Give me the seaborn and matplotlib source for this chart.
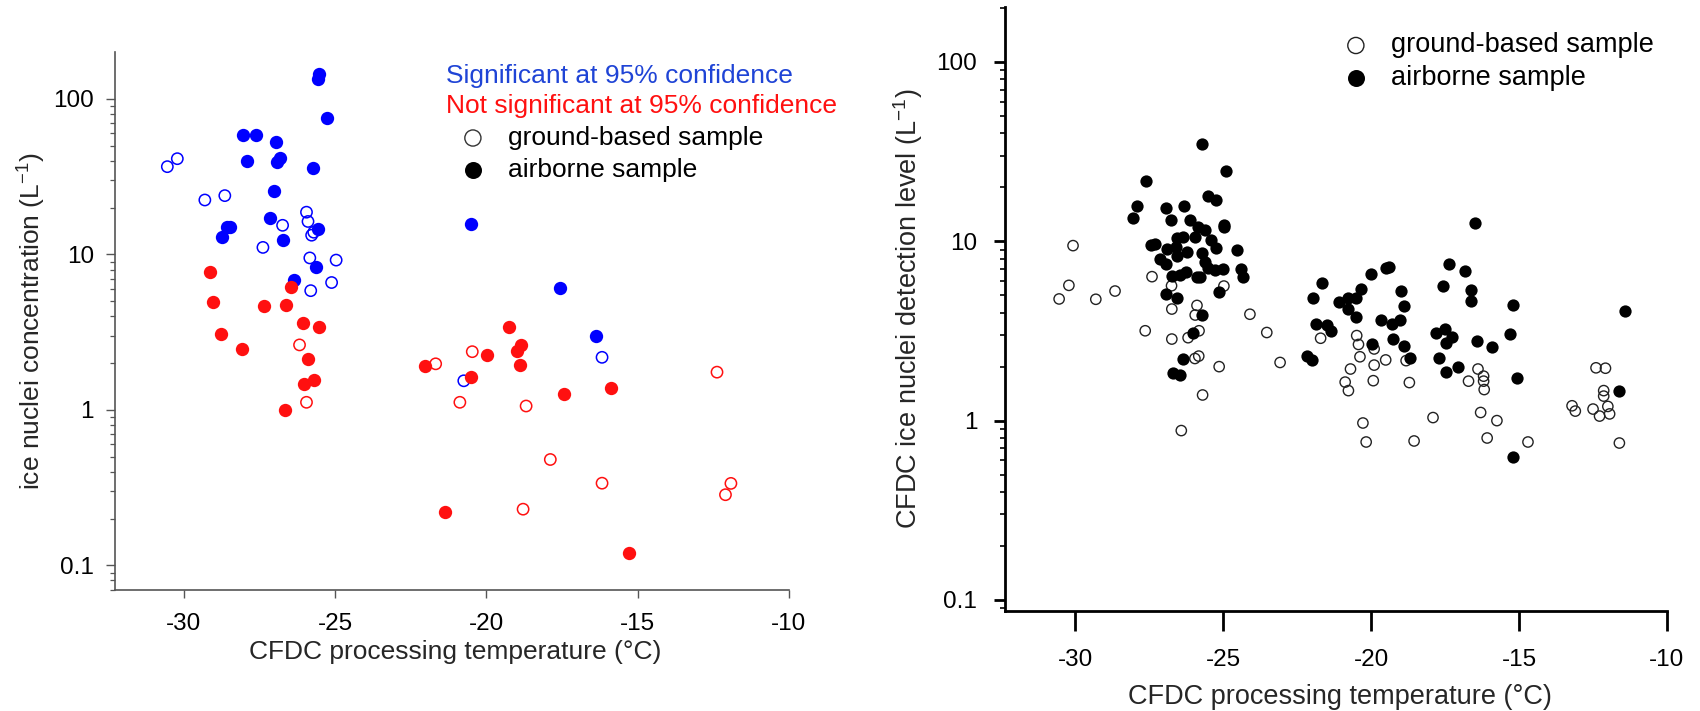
import numpy as np
import pandas as pd
import matplotlib
matplotlib.use("Agg")
import matplotlib.pyplot as plt
import seaborn as sns
from matplotlib.ticker import LogLocator, NullFormatter

# ---------------- data: left panel ----------------
sig_air_t = [-25.52, -25.57, -25.26, -28.05, -27.61, -26.96, -27.91, -26.94, -26.83, -25.74, -27.03,
             -27.14, -28.57, -28.48, -28.75, -26.74, -25.57, -25.62, -26.37, -20.51, -16.39, -17.58]
sig_air_c = [145, 134, 76, 59, 59, 53, 40, 39.5, 41.6, 36, 25.5,
             17.2, 15.0, 15.1, 13.0, 12.3, 14.6, 8.35, 6.9, 15.6, 3.0, 6.05]

sig_ground_t = [-30.55, -30.22, -29.31, -28.65, -26.74, -27.39, -25.95, -25.90, -25.78, -25.71,
                -25.84, -24.97, -25.12, -25.81, -20.75, -16.18]
sig_ground_c = [36.7, 41.3, 22.4, 23.9, 15.4, 11.1, 18.7, 16.3, 13.3, 13.9,
                9.5, 9.2, 6.6, 5.85, 1.54, 2.18]

nonsig_air_t = [-29.14, -29.03, -28.77, -28.09, -27.34, -26.62, -26.45, -26.06, -25.52, -25.89, -26.02,
                -25.69, -26.66, -22.02, -20.50, -19.98, -19.25, -18.85, -18.99, -18.88, -17.45, -15.88,
                -21.38, -15.28]
nonsig_air_c = [7.7, 4.95, 3.1, 2.47, 4.67, 4.71, 6.15, 3.61, 3.40, 2.12, 1.46,
                1.56, 1.0, 1.92, 1.64, 2.26, 3.40, 2.62, 2.41, 1.95, 1.27, 1.38,
                0.219, 0.12]

nonsig_ground_t = [-26.18, -25.95, -21.68, -20.47, -20.88, -18.69, -17.89, -16.18, -18.79,
                   -12.38, -11.92, -12.10]
nonsig_ground_c = [2.62, 1.12, 1.98, 2.37, 1.12, 1.06, 0.48, 0.338, 0.23,
                   1.75, 0.337, 0.285]

# ---------------- data: right panel ----------------
air_t = [-25.73, -24.92, -27.62, -27.91, -28.05, -26.95, -26.32, -25.53, -25.23, -26.77, -26.11,
         -24.97, -24.98, -25.87, -25.62, -26.56, -26.36, -25.96, -25.40, -27.43, -27.32, -26.92,
         -26.60, -26.24, -25.73, -25.25, -24.55, -27.15, -26.94, -26.58, -25.62, -25.51, -25.28,
         -25.0, -24.40, -24.35, -26.75, -26.47, -26.27, -25.90, -25.79, -26.94, -26.58, -25.15,
         -25.71, -26.04, -26.36, -26.70, -26.47,
         -22.18, -22.01, -21.65, -21.96, -21.87, -21.50, -21.37, -21.08, -20.77, -20.51, -20.35,
         -20.77, -20.52, -20.0, -19.49, -19.40, -18.99, -18.88, -19.68, -19.28, -19.02, -19.96,
         -19.25, -18.89, -18.68, -17.37, -16.82, -16.50, -17.58, -16.62, -16.62, -15.19, -17.80,
         -17.52, -17.27, -17.46, -16.43, -15.91, -15.32, -17.70, -17.47, -17.05, -15.07, -11.43,
         -11.63, -15.19]
air_c = [34.9, 24.8, 21.8, 15.8, 13.5, 15.4, 15.7, 17.9, 17.1, 13.1, 13.1,
         12.3, 12.0, 12.0, 11.6, 10.5, 10.6, 10.6, 10.2, 9.5, 9.7, 9.1,
         9.3, 8.75, 8.6, 9.2, 9.0, 8.0, 7.5, 8.3, 7.7, 7.1, 6.9,
         7.0, 7.0, 6.35, 6.4, 6.5, 6.7, 6.3, 6.35, 5.1, 4.8, 5.2,
         3.9, 3.07, 2.2, 1.85, 1.79,
         2.29, 2.18, 5.83, 4.85, 3.44, 3.41, 3.17, 4.6, 4.8, 4.8, 5.4,
         4.19, 3.77, 6.6, 7.1, 7.15, 5.3, 4.38, 3.64, 3.44, 3.64, 2.66,
         2.85, 2.6, 2.24, 7.5, 6.85, 12.7, 5.65, 5.35, 4.64, 4.4, 3.09,
         3.24, 2.94, 2.72, 2.78, 2.56, 3.03, 2.23, 1.87, 1.98, 1.72, 4.09,
         1.47, 0.63]

ground_t = [-30.08, -30.22, -30.55, -29.31, -28.66, -27.41, -26.75, -24.98, -26.74, -25.89, -25.95,
            -25.82, -26.19, -27.64, -26.74, -25.96, -25.83, -25.14, -25.70, -26.42, -24.10, -23.53,
            -23.08,
            -21.71, -20.49, -20.43, -19.90, -20.38, -19.90, -19.51, -20.70, -20.88, -20.77, -19.93,
            -18.82, -18.71, -20.28, -20.17, -18.55, -17.91, -16.39, -16.71, -16.20, -16.20, -16.18,
            -16.30, -15.75, -16.08, -14.70, -12.40, -12.08, -12.14, -12.14, -12.0, -13.21, -13.10,
            -12.50, -12.28, -11.94, -11.61]
ground_c = [9.46, 5.68, 4.77, 4.75, 5.28, 6.35, 5.65, 5.63, 4.19, 4.39, 3.88,
            3.17, 2.9, 3.17, 2.85, 2.22, 2.29, 2.0, 1.39, 0.88, 3.92, 3.1,
            2.11,
            2.88, 2.98, 2.66, 2.51, 2.27, 2.04, 2.18, 1.94, 1.64, 1.47, 1.67,
            2.16, 1.63, 0.97, 0.76, 0.77, 1.04, 1.94, 1.66, 1.77, 1.66, 1.49,
            1.11, 1.0, 0.80, 0.76, 1.97, 1.96, 1.47, 1.37, 1.2, 1.21, 1.13,
            1.16, 1.06, 1.09, 0.75]

x_ticks = [-30, -25, -20, -15, -10]
x_tick_labels = ["-30", "-25", "-20", "-15", "-10"]
y_ticks = [0.1, 1, 10, 100]
y_tick_labels = ["0.1", "1", "10", "100"]

xlabel = "CFDC processing temperature (°C)"
ylabel_left = "ice nuclei concentration (L$^{-1}$)"
ylabel_right = "CFDC ice nuclei detection level (L$^{-1}$)"
sig_text = "Significant at 95% confidence"
nonsig_text = "Not significant at 95% confidence"
ground_label = "ground-based sample"
air_label = "airborne sample"

# ---------------- style ----------------
sns.set_theme(style="ticks")
plt.rcParams["font.family"] = ["Liberation Sans", "DejaVu Sans"]
plt.rcParams["mathtext.fontset"] = "custom"
plt.rcParams["mathtext.rm"] = "Liberation Sans"
plt.rcParams["mathtext.it"] = "Liberation Sans:italic"
plt.rcParams["mathtext.bf"] = "Liberation Sans:bold"

BLUE = "#0000ff"
BLUE_TXT = "#1f44d6"
RED = "#ff1010"

W, H = 1700, 711
fig = plt.figure(figsize=(W / 100, H / 100), dpi=100)


def px_axes(l, t, r, b):
    return fig.add_axes([l / W, 1 - b / H, (r - l) / W, (b - t) / H])


ax1 = px_axes(115, 52.3, 789, 590)
ax2 = px_axes(1005, 7.3, 1667, 610.7)


def pts(ax, t, c, color, filled, s, lw=1.0):
    df = pd.DataFrame({"t": t, "c": c})
    if filled:
        sns.scatterplot(data=df, x="t", y="c", ax=ax, color=color, edgecolor=color,
                        s=s, linewidth=0, marker="o", legend=False, zorder=3)
    else:
        sns.scatterplot(data=df, x="t", y="c", ax=ax, facecolor="none", edgecolor=color,
                        s=s, linewidth=lw, marker="o", legend=False, zorder=3)


# left panel
pts(ax1, sig_ground_t, sig_ground_c, BLUE, False, 66, 1.1)
pts(ax1, nonsig_ground_t, nonsig_ground_c, RED, False, 66, 1.1)
pts(ax1, sig_air_t, sig_air_c, BLUE, True, 92)
pts(ax1, nonsig_air_t, nonsig_air_c, RED, True, 92)

# right panel
pts(ax2, ground_t, ground_c, "#222222", False, 55, 1.0)
pts(ax2, air_t, air_c, "black", True, 78)

for ax in (ax1, ax2):
    ax.set_yscale("log")
    ax.set_xticks(x_ticks)
    ax.set_xticklabels(x_tick_labels)
    ax.set_yticks(y_ticks)
    ax.set_yticklabels(y_tick_labels)
    ax.yaxis.set_minor_locator(LogLocator(base=10, subs=np.arange(2, 10)))
    ax.yaxis.set_minor_formatter(NullFormatter())
    ax.spines[["top", "right"]].set_visible(False)
    ax.set_facecolor("white")

ax1.set_xlim(-32.28, -10)
ax1.set_ylim(0.0695, 199.6)
ax2.set_xlim(-32.38, -10)
ax2.set_ylim(0.0871, 201.8)

# left axis styling
for sp in ("left", "bottom"):
    ax1.spines[sp].set_color("#555555")
    ax1.spines[sp].set_linewidth(1.2)
ax1.tick_params(axis="x", which="major", length=5.8, width=1.0, color="#555555",
                pad=10.5, labelsize=17.5, labelcolor="black")
ax1.tick_params(axis="y", which="major", length=6.5, width=1.0, color="#555555",
                pad=8.6, labelsize=17.5, labelcolor="black")
ax1.tick_params(axis="y", which="minor", length=3.6, width=0.9, color="#555555")

# right axis styling
for sp in ("left", "bottom"):
    ax2.spines[sp].set_color("black")
    ax2.spines[sp].set_linewidth(2.0)
ax2.tick_params(axis="x", which="major", length=14.4, width=2.0, color="black",
                pad=13, labelsize=17.5, labelcolor="black")
ax2.tick_params(axis="y", which="major", length=8.0, width=2.0, color="black",
                pad=12, labelsize=17.5, labelcolor="black")
ax2.tick_params(axis="y", which="minor", length=3.6, width=1.2, color="black")

# axis labels
ax1.set_xlabel(xlabel, fontsize=19, va="center")
ax1.xaxis.set_label_coords((455 - 115) / 674, (590 - 652) / 537.7)
ax1.set_ylabel(ylabel_left, fontsize=19, va="center")
ax1.yaxis.set_label_coords((32 - 115) / 674, 0.5)

ax2.set_xlabel(xlabel, fontsize=19.5, va="center")
ax2.xaxis.set_label_coords((1340 - 1005) / 662, (610.7 - 697) / 603.4)
ax2.set_ylabel(ylabel_right, fontsize=19.5, va="center")
ax2.yaxis.set_label_coords((908 - 1005) / 662, 0.5)

# left legend (text + marker keys)
ax1.text(0.491, 0.943, sig_text, color=BLUE_TXT, fontsize=19, transform=ax1.transAxes,
         ha="left", va="baseline")
ax1.text(0.491, 0.887, nonsig_text, color=RED, fontsize=19, transform=ax1.transAxes,
         ha="left", va="baseline")
ax1.scatter([0.531], [0.8406], s=135, facecolor="none", edgecolor="#333333", linewidth=1.0,
            transform=ax1.transAxes, clip_on=False)
ax1.scatter([0.531], [0.7811], s=150, color="black", linewidth=0,
            transform=ax1.transAxes, clip_on=False)
ax1.text(0.583, 0.8406, ground_label, fontsize=19, color="black", transform=ax1.transAxes,
         ha="left", va="center")
ax1.text(0.583, 0.7811, air_label, fontsize=19, color="black", transform=ax1.transAxes,
         ha="left", va="center")

# right legend
ax2.scatter([0.530], [0.9367], s=135, facecolor="none", edgecolor="#222222", linewidth=1.0,
            transform=ax2.transAxes, clip_on=False)
ax2.scatter([0.530], [0.8826], s=150, color="black", linewidth=0,
            transform=ax2.transAxes, clip_on=False)
ax2.text(0.583, 0.9367, ground_label, fontsize=19.5, color="black", transform=ax2.transAxes,
         ha="left", va="center")
ax2.text(0.583, 0.8826, air_label, fontsize=19.5, color="black", transform=ax2.transAxes,
         ha="left", va="center")

fig.savefig("out.png", dpi=100, facecolor="white")
